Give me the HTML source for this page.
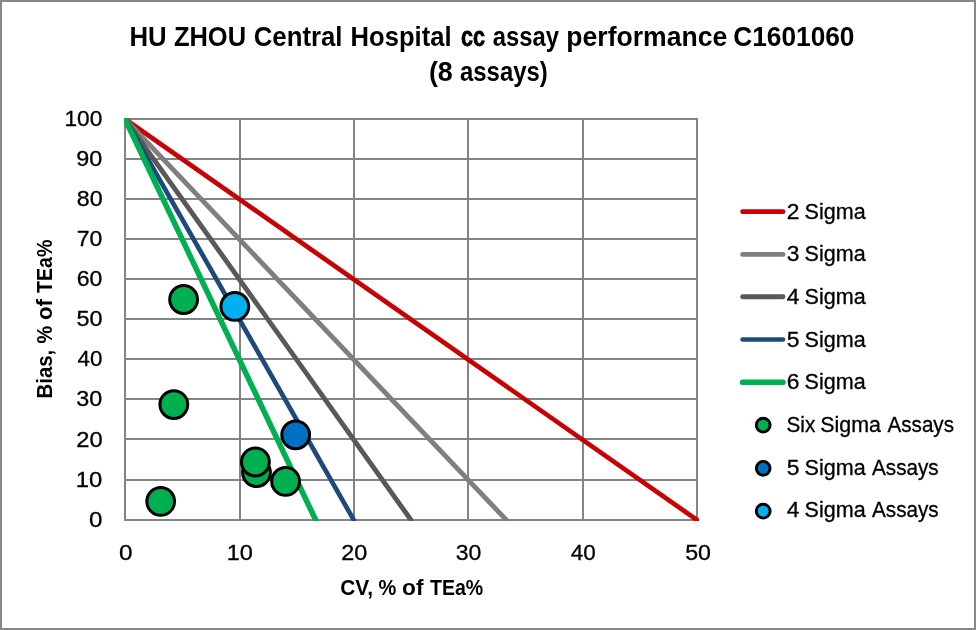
<!DOCTYPE html>
<html lang="en"><head><meta charset="utf-8"><title>HU ZHOU Central Hospital cc assay performance C1601060</title>
<style>html,body{margin:0;padding:0;background:#fff;}body{width:976px;height:630px;overflow:hidden;}svg{display:block;}text{font-family:"Liberation Sans", sans-serif;fill:#000;}.r text,text.r{stroke:#000;stroke-width:0.3px;}</style>
</head><body>
<svg width="976" height="630" viewBox="0 0 976 630">
<rect x="0" y="0" width="976" height="630" fill="#ffffff"/>
<!-- chart border -->
<rect x="1" y="1" width="974" height="628" fill="none" stroke="#898989" stroke-width="2"/>
<!-- gridlines -->
<g fill="#848484" shape-rendering="crispEdges"><rect x="124" y="519" width="574" height="2"/><rect x="124" y="479" width="574" height="2"/><rect x="124" y="438" width="574" height="2"/><rect x="124" y="398" width="574" height="2"/><rect x="124" y="358" width="574" height="2"/><rect x="124" y="318" width="574" height="2"/><rect x="124" y="278" width="574" height="2"/><rect x="124" y="238" width="574" height="2"/><rect x="124" y="198" width="574" height="2"/><rect x="124" y="158" width="574" height="2"/><rect x="124" y="118" width="574" height="2"/><rect x="124" y="118" width="2" height="403"/><rect x="239" y="118" width="2" height="403"/><rect x="353" y="118" width="2" height="403"/><rect x="467" y="118" width="2" height="403"/><rect x="582" y="118" width="2" height="403"/><rect x="696" y="118" width="2" height="403"/></g>
<defs><clipPath id="plotclip"><rect x="124" y="118" width="575" height="403"/></clipPath></defs>
<!-- sigma lines -->
<g clip-path="url(#plotclip)" stroke-linecap="round" fill="none">
<line x1="125.00" y1="119.00" x2="697.00" y2="520.00" stroke="#C80000" stroke-width="4.7"/>
<line x1="125.00" y1="119.00" x2="506.33" y2="520.00" stroke="#7F7F7F" stroke-width="4.9"/>
<line x1="125.00" y1="119.00" x2="411.00" y2="520.00" stroke="#595959" stroke-width="4.9"/>
<line x1="125.00" y1="119.00" x2="353.80" y2="520.00" stroke="#1F497D" stroke-width="4.7"/>
<line x1="125.00" y1="119.00" x2="315.67" y2="520.00" stroke="#00B050" stroke-width="5.6"/>
</g>
<!-- assay markers -->
<g stroke="#000" stroke-width="3">
<circle cx="160.7" cy="501.4" r="13.9" fill="#00B050"/>
<circle cx="173.8" cy="404.6" r="13.9" fill="#00B050"/>
<circle cx="183.6" cy="299.5" r="13.9" fill="#00B050"/>
<circle cx="256.5" cy="472.6" r="13.9" fill="#00B050"/>
<circle cx="285.6" cy="481.4" r="13.9" fill="#00B050"/>
<circle cx="255.4" cy="462.0" r="13.9" fill="#00B050"/>
<circle cx="295.7" cy="434.8" r="13.9" fill="#0070C0"/>
<circle cx="234.8" cy="306.4" r="13.9" fill="#00B0F0"/>
</g>
<!-- chart title -->
<g id="title"><text y="46.0" font-size="28.1" font-weight="bold"><tspan x="129.5" textLength="37.2" lengthAdjust="spacingAndGlyphs">HU</tspan> <tspan x="173.9" textLength="72.2" lengthAdjust="spacingAndGlyphs">ZHOU</tspan> <tspan x="253.7" textLength="88.8" lengthAdjust="spacingAndGlyphs">Central</tspan> <tspan x="350.6" textLength="100.9" lengthAdjust="spacingAndGlyphs">Hospital</tspan> <tspan x="461.0" textLength="24.0" lengthAdjust="spacingAndGlyphs" stroke="#000" stroke-width="0.8">cc</tspan> <tspan x="492.7" textLength="66.2" lengthAdjust="spacingAndGlyphs">assay</tspan> <tspan x="566.3" textLength="160.9" lengthAdjust="spacingAndGlyphs">performance</tspan> <tspan x="733.2" textLength="121.3" lengthAdjust="spacingAndGlyphs">C1601060</tspan></text></g>
<g id="subtitle"><text y="81.2" font-size="28.1" font-weight="bold"><tspan x="428.9" textLength="23.9" lengthAdjust="spacingAndGlyphs">(8</tspan> <tspan x="460.0" textLength="87.8" lengthAdjust="spacingAndGlyphs">assays)</tspan></text></g>
<!-- axis tick labels -->
<text class="r" x="89.0" y="526.7" font-size="21.7" textLength="13.4" lengthAdjust="spacingAndGlyphs">0</text>
<text class="r" x="75.8" y="486.6" font-size="21.7" textLength="26.5" lengthAdjust="spacingAndGlyphs">10</text>
<text class="r" x="76.3" y="446.5" font-size="21.7" textLength="26.4" lengthAdjust="spacingAndGlyphs">20</text>
<text class="r" x="76.3" y="406.4" font-size="21.7" textLength="26.0" lengthAdjust="spacingAndGlyphs">30</text>
<text class="r" x="77.5" y="366.3" font-size="21.7" textLength="24.8" lengthAdjust="spacingAndGlyphs">40</text>
<text class="r" x="76.4" y="326.2" font-size="21.7" textLength="26.0" lengthAdjust="spacingAndGlyphs">50</text>
<text class="r" x="76.8" y="286.1" font-size="21.7" textLength="25.6" lengthAdjust="spacingAndGlyphs">60</text>
<text class="r" x="76.8" y="246.0" font-size="21.7" textLength="25.6" lengthAdjust="spacingAndGlyphs">70</text>
<text class="r" x="76.8" y="205.9" font-size="21.7" textLength="25.8" lengthAdjust="spacingAndGlyphs">80</text>
<text class="r" x="76.3" y="165.8" font-size="21.7" textLength="26.0" lengthAdjust="spacingAndGlyphs">90</text>
<text class="r" x="64.5" y="125.7" font-size="21.7" textLength="37.8" lengthAdjust="spacingAndGlyphs">100</text>
<text class="r" x="119.0" y="559.5" font-size="21.7" textLength="13.5" lengthAdjust="spacingAndGlyphs">0</text>
<text class="r" x="226.7" y="559.5" font-size="21.7" textLength="26.2" lengthAdjust="spacingAndGlyphs">10</text>
<text class="r" x="341.3" y="559.5" font-size="21.7" textLength="26.0" lengthAdjust="spacingAndGlyphs">20</text>
<text class="r" x="455.8" y="559.5" font-size="21.7" textLength="25.6" lengthAdjust="spacingAndGlyphs">30</text>
<text class="r" x="570.7" y="559.5" font-size="21.7" textLength="25.0" lengthAdjust="spacingAndGlyphs">40</text>
<text class="r" x="685.2" y="559.5" font-size="21.7" textLength="25.8" lengthAdjust="spacingAndGlyphs">50</text>
<!-- axis titles -->
<g id="xtitle"><text y="595.4" font-size="21.9" font-weight="bold"><tspan x="340.2" textLength="32.9" lengthAdjust="spacingAndGlyphs">CV,</tspan> <tspan x="378.6" textLength="17.8" lengthAdjust="spacingAndGlyphs">%</tspan> <tspan x="402.1" textLength="21.4" lengthAdjust="spacingAndGlyphs">of</tspan> <tspan x="430.0" textLength="53.2" lengthAdjust="spacingAndGlyphs">TEa%</tspan></text></g>
<g id="ytitle" transform="translate(51.5 397.1) rotate(-90)"><text y="0.0" font-size="21.9" font-weight="bold"><tspan x="-1.4" textLength="48.7" lengthAdjust="spacingAndGlyphs">Bias,</tspan> <tspan x="53.5" textLength="17.7" lengthAdjust="spacingAndGlyphs">%</tspan> <tspan x="77.1" textLength="20.9" lengthAdjust="spacingAndGlyphs">of</tspan> <tspan x="104.0" textLength="53.5" lengthAdjust="spacingAndGlyphs">TEa%</tspan></text></g>
<!-- legend -->
<g class="r">
<line x1="742.6" y1="211.7" x2="783" y2="211.7" stroke="#C80000" stroke-width="4.7" stroke-linecap="round"/>
<text y="218.5" font-size="21.7"><tspan x="786.8" textLength="12.7" lengthAdjust="spacingAndGlyphs">2</tspan> <tspan x="804.6" textLength="61.1" lengthAdjust="spacingAndGlyphs">Sigma</tspan></text>
<line x1="742.6" y1="254.4" x2="783" y2="254.4" stroke="#7F7F7F" stroke-width="4.9" stroke-linecap="round"/>
<text y="261.2" font-size="21.7"><tspan x="786.8" textLength="12.7" lengthAdjust="spacingAndGlyphs">3</tspan> <tspan x="804.6" textLength="61.1" lengthAdjust="spacingAndGlyphs">Sigma</tspan></text>
<line x1="742.6" y1="296.8" x2="783" y2="296.8" stroke="#595959" stroke-width="4.9" stroke-linecap="round"/>
<text y="303.9" font-size="21.7"><tspan x="786.8" textLength="12.7" lengthAdjust="spacingAndGlyphs">4</tspan> <tspan x="804.6" textLength="61.1" lengthAdjust="spacingAndGlyphs">Sigma</tspan></text>
<line x1="742.6" y1="339.5" x2="783" y2="339.5" stroke="#1F497D" stroke-width="4.7" stroke-linecap="round"/>
<text y="346.6" font-size="21.7"><tspan x="786.8" textLength="12.7" lengthAdjust="spacingAndGlyphs">5</tspan> <tspan x="804.6" textLength="61.1" lengthAdjust="spacingAndGlyphs">Sigma</tspan></text>
<line x1="742.6" y1="382.2" x2="783" y2="382.2" stroke="#00B050" stroke-width="5.6" stroke-linecap="round"/>
<text y="389.3" font-size="21.7"><tspan x="786.8" textLength="12.7" lengthAdjust="spacingAndGlyphs">6</tspan> <tspan x="804.6" textLength="61.1" lengthAdjust="spacingAndGlyphs">Sigma</tspan></text>
<circle cx="763.2" cy="425.2" r="6.9" fill="#00B050" stroke="#000" stroke-width="2.9"/>
<text y="432.0" font-size="21.7"><tspan x="786.5" textLength="28.8" lengthAdjust="spacingAndGlyphs">Six</tspan> <tspan x="820.3" textLength="60.5" lengthAdjust="spacingAndGlyphs">Sigma</tspan> <tspan x="887.5" textLength="66.5" lengthAdjust="spacingAndGlyphs">Assays</tspan></text>
<circle cx="763.2" cy="468.3" r="6.9" fill="#0070C0" stroke="#000" stroke-width="2.9"/>
<text y="474.7" font-size="21.7"><tspan x="786.8" textLength="12.7" lengthAdjust="spacingAndGlyphs">5</tspan> <tspan x="804.6" textLength="61.1" lengthAdjust="spacingAndGlyphs">Sigma</tspan> <tspan x="872.0" textLength="66.7" lengthAdjust="spacingAndGlyphs">Assays</tspan></text>
<circle cx="763.2" cy="511.2" r="6.9" fill="#00B0F0" stroke="#000" stroke-width="2.9"/>
<text y="517.4" font-size="21.7"><tspan x="786.8" textLength="12.7" lengthAdjust="spacingAndGlyphs">4</tspan> <tspan x="804.6" textLength="61.1" lengthAdjust="spacingAndGlyphs">Sigma</tspan> <tspan x="872.0" textLength="66.7" lengthAdjust="spacingAndGlyphs">Assays</tspan></text>
</g>
</svg>
</body></html>
